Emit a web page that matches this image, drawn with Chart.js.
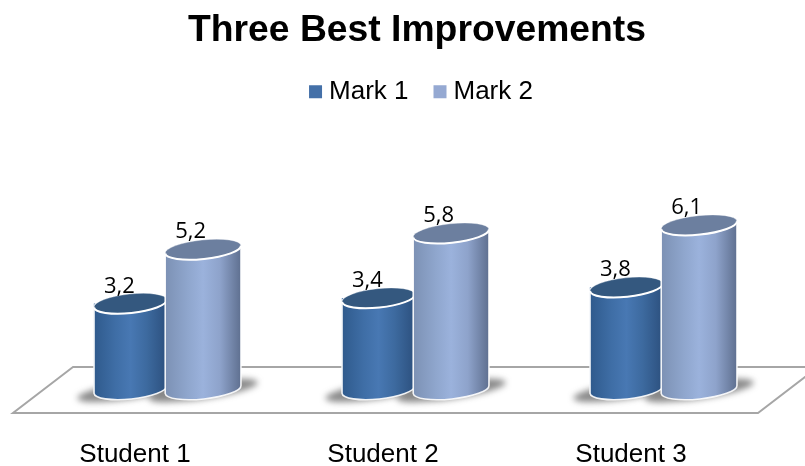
<!DOCTYPE html>
<html><head><meta charset="utf-8">
<style>html,body{margin:0;padding:0;background:#fff}canvas{display:block}</style>
<script src="https://cdn.jsdelivr.net/npm/chart.js@4"></script>
</head><body><canvas id="c" width="805" height="466"></canvas>
<script>
const categories = ['Student 1', 'Student 2', 'Student 3'];
const mark1 = [3.2, 3.4, 3.8];
const mark2 = [5.2, 5.8, 6.1];
const titleText = 'Three Best Improvements';

const looks = [
  {side:['#2f5a8c','#3f6ea6','#4878b3','#3d6a9f','#2c507e'], top:'#34587f'},
  {side:['#7c91b4','#8fa6cd','#9bb2dc','#8ea3cb','#5e6f8f'], top:'#6c7f9f'}
];
const TILT = -0.105, RY = 9.5;

function eachBar(chart, fn){
  chart.data.datasets.forEach((d, di) => {
    chart.getDatasetMeta(di).data.forEach((el, i) => fn(el, di, i, d.data[i]));
  });
}
function geom(el, di){
  const grow = di ? 1.5 : 0;
  return {cx: el.x - (di ? 0.5 : 0), rx: el.width / 2 + grow, yt: el.y, yb: el.base - 0.5};
}
const cylinders = {
  id:'cylinders',
  afterLayout(chart){
    chart.titleBlock.left += 2; chart.titleBlock.right += 2;
    chart.legend.left += 9; chart.legend.right += 9;
    chart.legend.top -= 5; chart.legend.bottom -= 5;
  },
  beforeDatasetsDraw(chart){
    const {ctx, chartArea:a} = chart;
    const front = a.bottom + 23, back = a.bottom - 23;
    ctx.save();
    ctx.strokeStyle = '#a6a6a6'; ctx.lineWidth = 2;
    ctx.beginPath();
    ctx.moveTo(a.left + 30, back);
    ctx.lineTo(a.left - 30, front);
    ctx.lineTo(a.right - 29, front);
    ctx.lineTo(a.right + 31, back);
    ctx.closePath();
    ctx.stroke();
    ctx.restore();
    ctx.save();
    ctx.filter = 'blur(3px)';
    ctx.fillStyle = 'rgba(60,60,60,0.6)';
    eachBar(chart, (el, di) => {
      const g = geom(el, di);
      ctx.beginPath();
      ctx.ellipse(g.cx, g.yb + 1, g.rx + 17, RY - 1, TILT * 1.4, 0, Math.PI * 2);
      ctx.fill();
    });
    ctx.restore();
  },
  afterDatasetsDraw(chart){
    const {ctx} = chart;
    ctx.save();
    eachBar(chart, (el, di) => {
      const g = geom(el, di), look = looks[di];
      const grad = ctx.createLinearGradient(g.cx - g.rx, 0, g.cx + g.rx, 0);
      [0, .3, .5, .72, 1].forEach((s, k) => grad.addColorStop(s, look.side[k]));
      ctx.beginPath();
      ctx.ellipse(g.cx, g.yb, g.rx, RY, TILT, 0, Math.PI);
      ctx.ellipse(g.cx, g.yt, g.rx, RY, TILT, Math.PI, Math.PI * 2);
      ctx.closePath();
      ctx.fillStyle = grad; ctx.fill();
      ctx.strokeStyle = 'rgba(255,255,255,0.9)'; ctx.lineWidth = 1.6; ctx.stroke();
      ctx.beginPath();
      ctx.ellipse(g.cx, g.yt, g.rx, RY, TILT, 0, Math.PI * 2);
      ctx.fillStyle = look.top; ctx.fill();
      ctx.strokeStyle = 'rgba(255,255,255,0.35)'; ctx.lineWidth = 1; ctx.stroke();
      ctx.beginPath();
      ctx.ellipse(g.cx, g.yt, g.rx, RY, TILT, 0, Math.PI);
      ctx.strokeStyle = '#fff'; ctx.lineWidth = 2; ctx.stroke();
    });
    ctx.fillStyle = '#000';
    ctx.font = '22px "Open Sans"';
    ctx.textAlign = 'center';
    ctx.textBaseline = 'alphabetic';
    eachBar(chart, (el, di, i, v) => {
      ctx.fillText(String(v).replace('.', ','), el.x - 11 - 2 * di, el.y - RY - 1.5);
    });
    ctx.restore();
  }
};

new Chart(document.getElementById('c'), {
  type:'bar',
  data:{
    labels:categories,
    datasets:[
      {label:'Mark 1', data:mark1, backgroundColor:'#4470a8', borderWidth:0},
      {label:'Mark 2', data:mark2, backgroundColor:'#95a9d2', borderWidth:0}
    ]
  },
  plugins:[cylinders],
  options:{
    responsive:false,
    animation:false,
    devicePixelRatio:1,
    layout:{padding:{left:43, right:18, top:0, bottom:0}},
    datasets:{bar:{categoryPercentage:0.59, barPercentage:1}},
    plugins:{
      tooltip:{enabled:false},
      title:{display:true, text:titleText, color:'#000',
        font:{family:'"Liberation Sans"', size:37.3, weight:'bold'},
        padding:{top:8, bottom:0}},
      legend:{display:true, position:'top',
        labels:{usePointStyle:true, pointStyle:'rect', boxWidth:1, boxHeight:13, padding:31,
          color:'#000', font:{family:'"Liberation Sans"', size:26}}}
    },
    scales:{
      x:{grid:{display:false}, border:{display:false},
        afterFit(s){ s.height = 76; },
        ticks:{color:'#000', labelOffset:-32, padding:41, maxRotation:0,
          font:{family:'"Liberation Sans"', size:26}}},
      y:{display:false, min:0, max:10}
    }
  }
});
</script></body></html>
